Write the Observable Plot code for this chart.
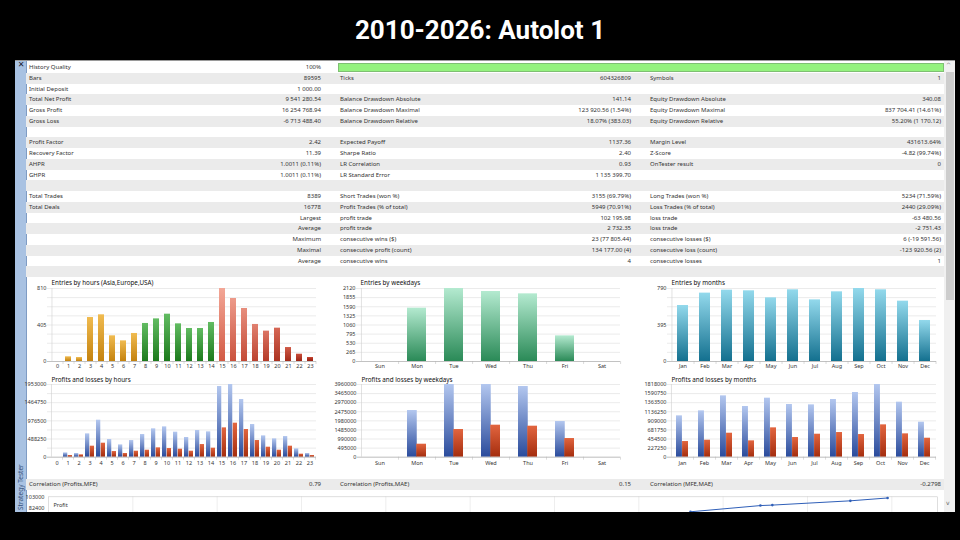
<!DOCTYPE html>
<html><head><meta charset="utf-8">
<script src="https://cdn.jsdelivr.net/npm/d3@7"></script>
<script src="https://cdn.jsdelivr.net/npm/@observablehq/plot@0.6"></script>
<style>
html,body{margin:0;padding:0;background:#000;width:960px;height:540px;overflow:hidden;}
#title{position:absolute;left:0;top:14px;width:960px;text-align:center;color:#fff;font:700 26px Roboto,"Open Sans",sans-serif;line-height:32px;}
#clip{position:absolute;left:0;top:0;width:960px;height:512px;overflow:hidden;}
.abs{position:absolute;}
.t{position:absolute;font:6px "Noto Sans",sans-serif;color:#333;white-space:nowrap;line-height:10.75px;}
.r{text-align:right;}
</style></head><body>
<div id="title">2010-2026: Autolot 1</div>
<div id="clip"></div>
<script>
// ---------------- DATA ----------------
const col1Labels = ["History Quality","Bars","Initial Deposit","Total Net Profit","Gross Profit","Gross Loss","","Profit Factor","Recovery Factor","AHPR","GHPR","","Total Trades","Total Deals","","","","",""];
const col1Values = ["100%","89595","1 000.00","9 541 280.54","16 254 768.94","-6 713 488.40","","2.42","11.39","1.0011 (0.11%)","1.0011 (0.11%)","","8389","16778","Largest","Average","Maximum","Maximal","Average"];
const col2Labels = ["","Ticks","","Balance Drawdown Absolute","Balance Drawdown Maximal","Balance Drawdown Relative","","Expected Payoff","Sharpe Ratio","LR Correlation","LR Standard Error","","Short Trades (won %)","Profit Trades (% of total)","profit trade","profit trade","consecutive wins ($)","consecutive profit (count)","consecutive wins"];
const col2Values = ["","604326809","","141.14","123 920.56 (1.54%)","18.07% (383.03)","","1137.36","2.40","0.93","1 135 399.70","","3155 (69.79%)","5949 (70.91%)","102 195.98","2 732.35","23 (77 805.44)","134 177.00 (4)","4"];
const col3Labels = ["","Symbols","","Equity Drawdown Absolute","Equity Drawdown Maximal","Equity Drawdown Relative","","Margin Level","Z-Score","OnTester result","","","Long Trades (won %)","Loss Trades (% of total)","loss trade","loss trade","consecutive losses ($)","consecutive loss (count)","consecutive losses"];
const col3Values = ["","1","","340.08","837 704.41 (14.61%)","55.20% (1 170.12)","","431613.64%","-4.82 (99.74%)","0","","","5234 (71.59%)","2440 (29.09%)","-63 480.56","-2 751.43","6 (-19 591.56)","-123 920.56 (2)","1"];
const corrLabels = ["Correlation (Profits,MFE)","Correlation (Profits,MAE)","Correlation (MFE,MAE)"];
const corrValues = ["0.79","0.15","-0.2798"];

const hourLabels = ["0","1","2","3","4","5","6","7","8","9","10","11","12","13","14","15","16","17","18","19","20","21","22","23"];
const weekdayLabels = ["Sun","Mon","Tue","Wed","Thu","Fri","Sat"];
const monthLabels = ["Jan","Feb","Mar","Apr","May","Jun","Jul","Aug","Sep","Oct","Nov","Dec"];

const entriesByHour = [0,52,44,488,518,285,229,311,422,473,525,418,366,366,433,810,699,588,411,337,370,155,81,44];
const entriesByWeekday = [0,1549,2120,2033,1965,745,0];
const entriesByMonth = [606,740,772,765,689,776,667,754,790,776,653,444];

const profitsByHour = [0,116000,99000,627000,994000,475000,331000,448000,609000,762000,815000,672000,529000,717000,681000,1899000,1953000,1550000,878000,573000,493000,555000,224000,99000];
const lossesByHour  = [0,45000,63000,296000,376000,152000,99000,161000,188000,251000,233000,215000,161000,340000,242000,788000,914000,744000,448000,269000,188000,296000,81000,45000];
const profitsByWeekday = [0,2543000,3960000,3960000,3851000,1944000,0];
const lossesByWeekday  = [0,708000,1508000,1744000,1689000,1017000,0];
const profitsByMonth = [1034000,1159000,1534000,1268000,1476000,1318000,1309000,1443000,1618000,1818000,1376000,876000];
const lossesByMonth  = [392000,425000,600000,409000,734000,492000,575000,617000,567000,809000,584000,475000];

const ticksEntriesHour = [0,405,810];
const ticksEntriesWeekday = [0,265,530,795,1060,1325,1590,1855,2120];
const ticksEntriesMonth = [0,395,790];
const ticksProfitHour = [0,488250,976500,1464750,1953000];
const ticksProfitWeekday = [0,495000,990000,1485000,1980000,2475000,2970000,3465000,3960000];
const ticksProfitMonth = [0,227250,454500,681750,909000,1136250,1363500,1590750,1818000];

const mfeX = [91350,101300,103000,114100,119400];
const mfeProfit = [74900,87100,88000,96400,102000];
const ticksMfeProfit = [82400,103000];

// ---------------- LAYOUT ----------------
const clip = d3.select("#clip");
function box(l,t,w,h,bg){return clip.append("div").attr("class","abs").style("left",l+"px").style("top",t+"px").style("width",w+"px").style("height",h+"px").style("background",bg);}
box(15,60,940,460,"#fff");
box(15,60,940,1,"#9a9a9a");
// left strip
box(15,61,11,460,"#a9c2e2").style("border-right","1px solid #7f9cc4");
clip.append("div").attr("class","abs").style("left","16px").style("top","60px").style("width","10px").style("text-align","center")
  .style("font","bold 8px 'DejaVu Sans'").style("color","#223").text("✕");
clip.append("div").attr("class","abs").style("left","15.5px").style("top","510px").style("transform","rotate(-90deg)").style("transform-origin","0 0")
  .style("font","6.5px 'Noto Sans'").style("line-height","9px").style("color","#34507a").style("white-space","nowrap").text("Strategy Tester");
// scrollbar
box(944,61,11,460,"#f0f0f0");
box(946,72,8,228,"#cdcdcd");
clip.append("div").attr("class","abs").style("left","946px").style("top","61px").style("font","6px 'DejaVu Sans'").style("color","#666").text("^");
clip.append("div").attr("class","abs").style("left","946px").style("top","499px").style("font","6px 'DejaVu Sans'").style("color","#666").text("v");

// table
const rowH = 10.75, row0 = 62;
for (let i = 0; i < 20; i++) {
  if (i % 2 === 1) box(26, row0 + i*rowH, 918, rowH, "#ebebeb");
}
// history quality bar
box(338, 62.5, 606, 9, "#94f27e").style("border","1px solid #7fbf73").style("box-sizing","border-box");
function txt(s,x,y,right){
  const d = clip.append("div").attr("class","t"+(right?" r":"")).style("top",y+"px").text(s);
  if (right) d.style("left",(x-200)+"px").style("width","200px"); else d.style("left",x+"px");
}
[[col1Labels,col1Values,29,321],[col2Labels,col2Values,340,631],[col3Labels,col3Values,650,941]].forEach(([L,V,xl,xr])=>{
  L.forEach((s,i)=>{ if(s) txt(s,xl,row0+i*rowH); });
  V.forEach((s,i)=>{ if(s) txt(s,xr,row0+i*rowH,true); });
});
// correlation row
box(26,479,918,rowH,"#ebebeb");
corrLabels.forEach((s,i)=>{ txt(s,[29,340,650][i],479); txt(corrValues[i],[321,631,941][i],479,true); });

// gradients
const defs = d3.select("body").append("svg").attr("width",0).attr("height",0).style("position","absolute").append("defs");
function grad(id, top, bottom){
  const g = defs.append("linearGradient").attr("id",id).attr("x1",0).attr("y1",0).attr("x2",0).attr("y2",1);
  g.append("stop").attr("offset","0%").attr("stop-color",top);
  g.append("stop").attr("offset","100%").attr("stop-color",bottom);
}
grad("gOrange","#f0bb50","#c4820e");
grad("gGreen","#62bc62","#1c7a1c");
for (let h = 15; h < 24; h++) {
  const t = (h-15)/8;
  grad("gRed"+h, d3.interpolateRgb("#f3a797","#c4412e")(t), d3.interpolateRgb("#d25a44","#951c0c")(t));
}
grad("gMint","#b4ead0","#2a8a57");
grad("gTeal","#93d9ec","#13708f");
grad("gBlue","#b3c7ef","#2a4b9c");
grad("gLoss","#e2653f","#a42d0e");

function barChart(o){
  const data = o.cats.map((c,i)=>({cat:c, i, v:o.values[i], v2:o.values2 ? o.values2[i] : null}));
  const plotW = o.width - o.mL - o.mR, plotH = o.height - o.mT - o.mB;
  const step = plotW / o.cats.length, bw = step*(1-o.pad);
  const grid = d3.range(0, o.max + o.max/1e6, o.max/8);
  const marks = [
    Plot.ruleY(grid, {stroke:"#dedede", strokeWidth:0.6, insetLeft:-4}),
    Plot.ruleX([o.cats[0]], {x:d=>d, dx:-step/2, stroke:"#cfcfcf", strokeWidth:0.6}),
    Plot.ruleX(o.cats, {x:d=>d, dx:step/2, insetTop:plotH, insetBottom:-3, stroke:"#c4c4c4", strokeWidth:0.6})
  ];
  if (!o.values2) {
    marks.push(Plot.barY(data, {x:"cat", y:"v", fill:d=>o.fill(d.i)}));
  } else {
    marks.push(Plot.barY(data, {x:"cat", y:"v", fill:()=>"url(#gBlue)", insetRight:bw/2}));
    marks.push(Plot.barY(data, {x:"cat", y:"v2", fill:()=>"url(#gLoss)", insetLeft:bw/2}));
  }
  marks.push(Plot.ruleY([0], {stroke:"#b0b0b0", strokeWidth:0.7, insetLeft:-4}));
  marks.push(Plot.axisY({ticks:o.ticks, tickSize:0, tickPadding:5, tickFormat:d3.format("d"), fontSize:5.5, label:null}));
  marks.push(Plot.axisX({tickSize:0, tickPadding:o.xPad, fontSize:5.5, label:null}));
  marks.push(Plot.text([o.title], {frameAnchor:"top-left", text:d=>d, dy:o.titleDy, textAnchor:"start", lineAnchor:"middle", fontSize:6.3, fill:"#111"}));
  const svg = Plot.plot({
    width:o.width, height:o.height, marginLeft:o.mL, marginRight:o.mR, marginTop:o.mT, marginBottom:o.mB,
    x:{domain:o.cats, paddingInner:o.pad, paddingOuter:o.pad/2, label:null},
    y:{domain:[0,o.max], label:null},
    color:{type:"identity"},
    style:{fontFamily:"'Noto Sans',sans-serif", color:"#333", background:"transparent", overflow:"visible"},
    marks
  });
  d3.select(svg).style("position","absolute").style("left",o.left+"px").style("top",o.top+"px");
  clip.node().appendChild(svg);
}

const hourFill = i => i < 8 ? "url(#gOrange)" : i < 15 ? "url(#gGreen)" : "url(#gRed"+i+")";
// entries row
barChart({left:27, top:276, width:303, height:96, mL:24, mR:14, mT:12, mB:11, cats:hourLabels, values:entriesByHour, max:810, ticks:ticksEntriesHour, pad:0.45, fill:hourFill, xPad:2.3, title:"Entries by hours (Asia,Europe,USA)", titleDy:-6});
barChart({left:335, top:276, width:305, height:96, mL:25, mR:20, mT:12, mB:11, cats:weekdayLabels, values:entriesByWeekday, max:2120, ticks:ticksEntriesWeekday, pad:0.5, fill:()=>"url(#gMint)", xPad:2.3, title:"Entries by weekdays", titleDy:-6});
barChart({left:645, top:276, width:299, height:96, mL:26, mR:8, mT:12, mB:11, cats:monthLabels, values:entriesByMonth, max:790, ticks:ticksEntriesMonth, pad:0.48, fill:()=>"url(#gTeal)", xPad:2.3, title:"Entries by months", titleDy:-6});
// profits row
barChart({left:19, top:376, width:311, height:96, mL:32, mR:14, mT:8, mB:15.3, cats:hourLabels, values:profitsByHour, values2:lossesByHour, max:1953000, ticks:ticksProfitHour, pad:0.14, xPad:3.5, title:"Profits and losses by hours", titleDy:-4.5});
barChart({left:327, top:376, width:313, height:96, mL:34, mR:20, mT:8, mB:15.3, cats:weekdayLabels, values:profitsByWeekday, values2:lossesByWeekday, max:3960000, ticks:ticksProfitWeekday, pad:0.5, xPad:3.5, title:"Profits and losses by weekdays", titleDy:-4.5});
barChart({left:637, top:376, width:307, height:96, mL:34, mR:8, mT:8, mB:15.3, cats:monthLabels, values:profitsByMonth, values2:lossesByMonth, max:1818000, ticks:ticksProfitMonth, pad:0.45, xPad:3.5, title:"Profits and losses by months", titleDy:-4.5});

// bottom MFE / Profit chart (partially visible)
{
  const data = mfeX.map((x,i)=>({x, y:mfeProfit[i]}));
  const svg = Plot.plot({
    width:924, height:90, marginLeft:28, marginRight:7, marginTop:6.3, marginBottom:28,
    x:{domain:[0,126500], label:null, axis:null},
    y:{domain:[-5000,104300], label:null},
    style:{fontFamily:"'Noto Sans',sans-serif", color:"#333", background:"transparent", overflow:"hidden"},
    marks:[
      Plot.ruleX(d3.range(12000,126500,12000), {stroke:"#e2e2e2", strokeWidth:0.6}),
      Plot.frame({stroke:"#c8c8c8", strokeWidth:0.6}),
      Plot.axisY({ticks:ticksMfeProfit, tickSize:0, tickPadding:4, tickFormat:d3.format("d"), fontSize:5.5, label:null}),
      Plot.text(["Profit"], {frameAnchor:"top-left", text:d=>d, dx:5, dy:6, textAnchor:"start", fontSize:5.5, fill:"#333"}),
      Plot.line(data, {x:"x", y:"y", stroke:"#2f5fb8", strokeWidth:1}),
      Plot.dot(data, {x:"x", y:"y", r:1.3, fill:"#2f5fb8"})
    ]
  });
  d3.select(svg).style("position","absolute").style("left","20px").style("top","490px");
  clip.node().appendChild(svg);
}
</script>
</body></html>
